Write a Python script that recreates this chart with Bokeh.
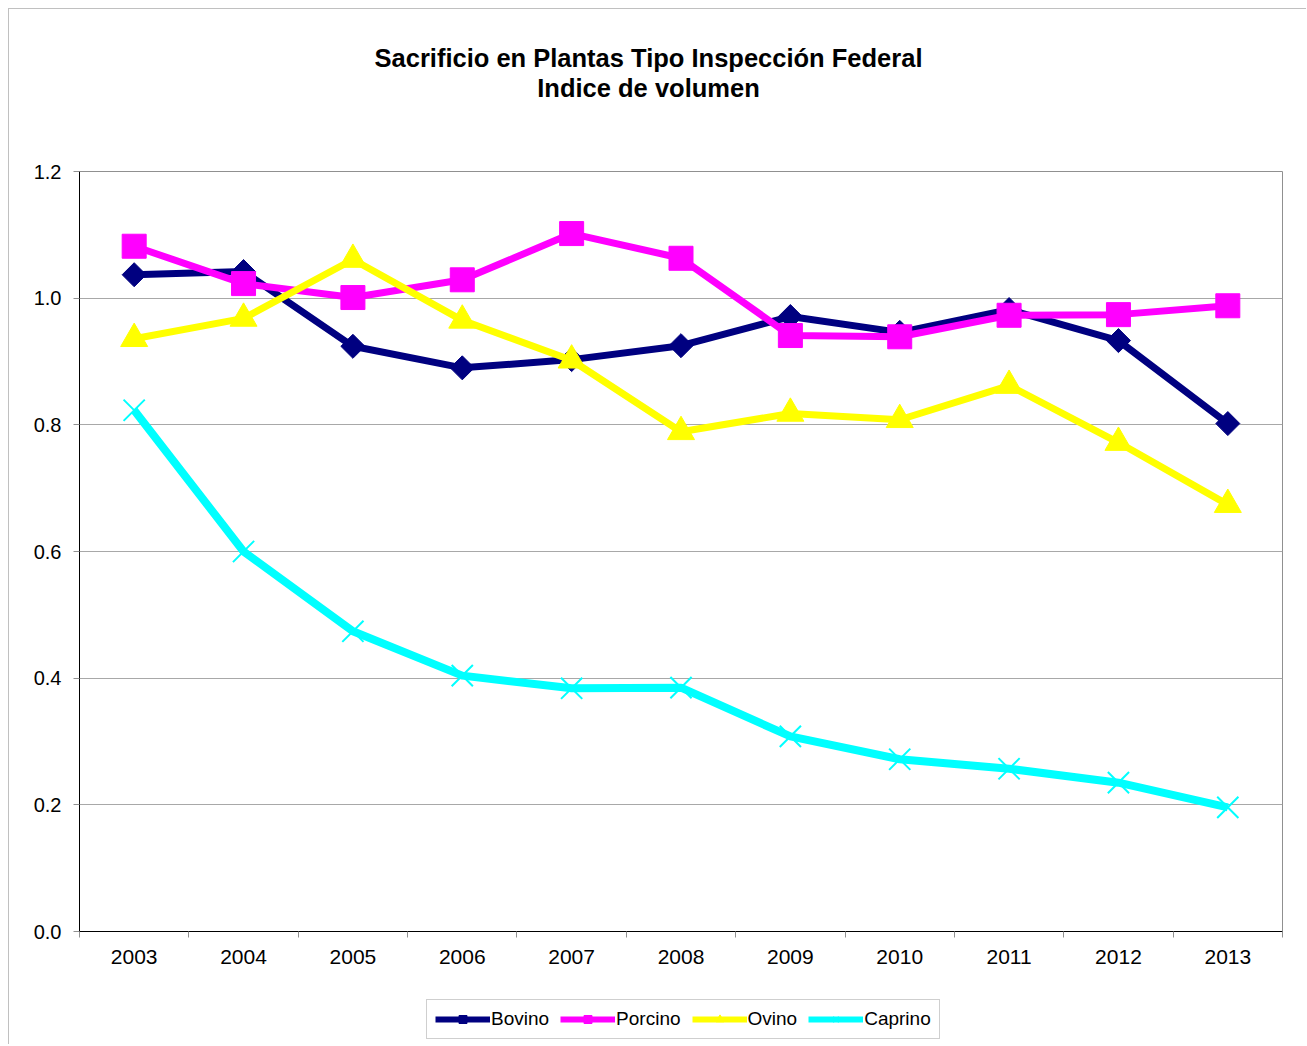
import numpy as np
from bokeh.plotting import figure
from bokeh.layouts import column
from bokeh.models import (FixedTicker, Legend, LegendItem, ColumnDataSource,
                          NumeralTickFormatter, Range1d)
from bokeh.core.properties import value
from bokeh.embed import file_html
from bokeh.resources import INLINE

years = ["2003", "2004", "2005", "2006", "2007", "2008", "2009", "2010", "2011", "2012", "2013"]
bovino = [1.037, 1.042, 0.924, 0.890, 0.903, 0.925, 0.971, 0.946, 0.982, 0.933, 0.802]
porcino = [1.082, 1.023, 1.001, 1.029, 1.102, 1.063, 0.941, 0.939, 0.973, 0.974, 0.988]
ovino = [0.936, 0.968, 1.061, 0.965, 0.902, 0.789, 0.818, 0.808, 0.862, 0.772, 0.674]
caprino = [0.823, 0.600, 0.474, 0.404, 0.384, 0.385, 0.308, 0.272, 0.257, 0.235, 0.196]
y_ticks = [0.0, 0.2, 0.4, 0.6, 0.8, 1.0, 1.2]
titles = ["Sacrificio en Plantas Tipo Inspección Federal", "Indice de volumen"]

FONT = "Liberation Sans"
W = 1298
H_TITLE, H_MAIN, H_LEG = 131, 850, 55
BORDER = "1px solid #c0c0c0"
# frames of all three figures are aligned by the column layout: page x 79..1282
FRAME_L, FRAME_R = 79, 1282


def bare_fig(h, styles):
    f = figure(width=W, height=h, output_backend="svg", toolbar_location=None,
               x_range=Range1d(FRAME_L, FRAME_R), y_range=Range1d(0, h),
               x_axis_location=None, y_axis_location=None,
               min_border=0, min_border_left=0, min_border_right=0,
               min_border_top=0, min_border_bottom=0, styles=styles)
    f.grid.visible = False
    f.outline_line_color = None
    f.background_fill_color = "white"
    f.border_fill_color = "white"
    return f


# ---- title ----
pt = bare_fig(H_TITLE, {"border-left": BORDER, "border-top": BORDER})
pt.text(x=[648, 648], y=[H_TITLE - 48, H_TITLE - 78], text=titles,
        text_align="center", text_baseline="middle", text_font=value(FONT),
        text_font_size="25.5px", text_font_style="bold", text_color="black")

# ---- main chart ----
p = figure(width=W, height=H_MAIN, output_backend="svg", toolbar_location=None,
           x_range=Range1d(-0.5, len(years) - 0.5), y_range=Range1d(0, 1.2),
           min_border_left=70, min_border_top=32, min_border_right=25, min_border_bottom=58,
           styles={"border-left": BORDER})
p.background_fill_color = "white"
p.border_fill_color = "white"
p.outline_line_color = "#909090"
p.outline_line_width = 1

xs = list(range(len(years)))

p.xaxis.ticker = FixedTicker(ticks=xs, minor_ticks=[k - 0.5 for k in range(len(years) + 1)])
p.xaxis.major_label_overrides = {i: y for i, y in enumerate(years)}
p.xaxis.major_tick_line_color = None
p.xaxis.minor_tick_line_color = "#909090"
p.xaxis.minor_tick_in = 0
p.xaxis.minor_tick_out = 6
p.xaxis.axis_line_color = "black"
p.xaxis.major_label_text_font = FONT
p.xaxis.major_label_text_font_size = "21px"
p.xaxis.major_label_text_color = "black"
p.xaxis.major_label_standoff = 12

p.yaxis.ticker = FixedTicker(ticks=y_ticks, minor_ticks=[])
p.yaxis.formatter = NumeralTickFormatter(format="0.0")
p.yaxis.major_tick_line_color = "#909090"
p.yaxis.major_tick_in = 0
p.yaxis.major_tick_out = 6
p.yaxis.minor_tick_line_color = None
p.yaxis.axis_line_color = "black"
p.yaxis.major_label_text_font = FONT
p.yaxis.major_label_text_font_size = "20px"
p.yaxis.major_label_text_color = "black"
p.yaxis.major_label_standoff = 12

p.xgrid.grid_line_color = None
p.ygrid.grid_line_color = "#a8a8a8"
p.ygrid.grid_line_width = 1

series = [
    ("Bovino", bovino, "#000080", 7, dict(marker="square", angle=np.pi / 4, size=17), dict(marker="square", angle=np.pi / 4, size=7)),
    ("Porcino", porcino, "#FF00FF", 7, dict(marker="square", size=24), dict(marker="square", size=11)),
    ("Ovino", ovino, "#FFFF00", 7, dict(marker="triangle", size=27), dict(marker="triangle", size=12)),
    ("Caprino", caprino, "#00FFFF", 8, dict(marker="x", size=30), dict(marker="x", size=11)),
]

# ---- legend figure ----
pl = bare_fig(H_LEG, {"border-left": BORDER})

items = []
for name, vals, col, lw, mk, mk_small in series:
    src = ColumnDataSource(dict(x=xs, y=vals))
    p.line("x", "y", source=src, line_color=col, line_width=lw, line_join="round")
    if mk["marker"] == "x":
        p.scatter("x", "y", source=src, line_color=col, line_width=2, **mk)
    else:
        p.scatter("x", "y", source=src, fill_color=col, line_color=col, **mk)
    dsrc = ColumnDataSource(dict(x=[np.nan], y=[np.nan]))
    dl = pl.line("x", "y", source=dsrc, line_color=col, line_width=6)
    if mk_small["marker"] == "x":
        ds = pl.scatter("x", "y", source=dsrc, line_color=col, line_width=1.5, **mk_small)
    else:
        ds = pl.scatter("x", "y", source=dsrc, fill_color=col, line_color=col, **mk_small)
    items.append(LegendItem(label=name, renderers=[dl, ds]))

legend = Legend(items=items, orientation="horizontal", location=(426 - FRAME_L, 5))
legend.label_text_font = FONT
legend.label_text_font_size = "19px"
legend.label_text_color = "black"
legend.glyph_width = 55
legend.glyph_height = 20
legend.label_standoff = 1
legend.spacing = 11
legend.padding = 8
legend.margin = 0
legend.border_line_color = "#a0a0a0"
legend.border_line_width = 1
legend.background_fill_alpha = 1
pl.add_layout(legend, "center")

layout = column(pt, p, pl, spacing=0, styles={"margin-left": "8px", "margin-top": "8px"})

open("out.html", "w").write(file_html(layout, INLINE))
